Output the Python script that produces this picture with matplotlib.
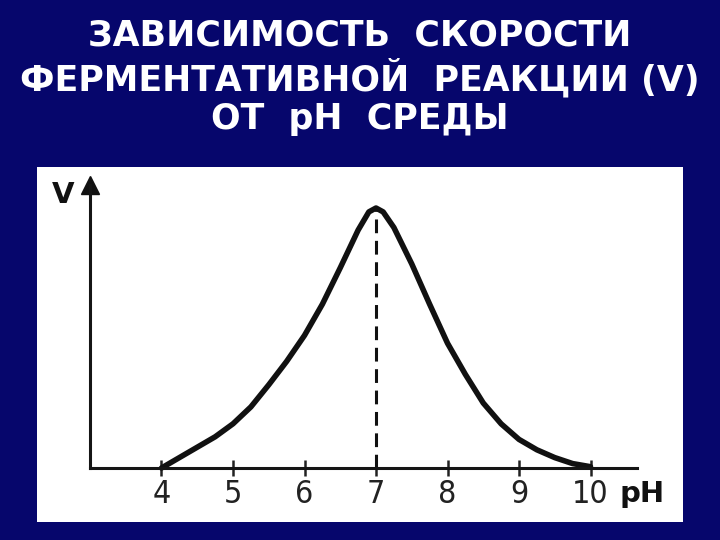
import matplotlib
matplotlib.use("Agg")
import matplotlib.pyplot as plt

# data (relative enzyme activity V vs pH)
ph = [4.0, 4.25, 4.5, 4.75, 5.0, 5.25, 5.5, 5.75, 6.0, 6.25, 6.5, 6.75, 6.9,
      7.0, 7.1, 7.25, 7.5, 7.75, 8.0, 8.25, 8.5, 8.75, 9.0, 9.25, 9.5, 9.75, 10.0]
v = [0.0, 0.04, 0.08, 0.12, 0.17, 0.235, 0.32, 0.41, 0.51, 0.63, 0.77, 0.915, 0.985,
     1.0, 0.985, 0.925, 0.785, 0.63, 0.48, 0.36, 0.25, 0.17, 0.11, 0.07, 0.04, 0.017, 0.005]
tick_values = [4, 5, 6, 7, 8, 9, 10]
tick_labels = ["4", "5", "6", "7", "8", "9", "10"]
title_lines = ["ЗАВИСИМОСТЬ  СКОРОСТИ", "ФЕРМЕНТАТИВНОЙ  РЕАКЦИИ (V)", "ОТ  pH  СРЕДЫ"]
peak_ph = 7.0
peak_v = 1.0

W, H = 720, 540
navy = "#06066c"
fig = plt.figure(figsize=(7.2, 5.4), dpi=100, facecolor=navy)

# white panel (background axes)
bg = fig.add_axes([37 / W, (H - 522) / H, (683 - 37) / W, (522 - 167) / H], zorder=0)
bg.set_facecolor("white")
bg.set_xticks([]); bg.set_yticks([])
for s in bg.spines.values():
    s.set_visible(False)

# title
for txt, yc in zip(title_lines, [36, 78, 119]):
    fig.text(0.5, 1 - yc / H, txt, color="white", fontsize=25, fontweight="bold",
             ha="center", va="center", family=["DejaVu Sans"])

# axes
x0, x1 = 3.0, 10.65
px_per = 71.5
left_px = 90
width_px = (x1 - x0) * px_per
y_top = 1.09
ax = fig.add_axes([left_px / W, (H - 468) / H, width_px / W, (y_top * 260) / H], zorder=2)
ax.set_facecolor("none")
ax.set_xlim(x0, x1)
ax.set_ylim(0, y_top)
for s in ["top", "right"]:
    ax.spines[s].set_visible(False)
for s in ["left", "bottom"]:
    ax.spines[s].set_linewidth(2.2)
    ax.spines[s].set_color("#151515")

ax.plot(ph, v, color="#111111", lw=4, solid_capstyle="round", solid_joinstyle="round", clip_on=False)
ax.plot([peak_ph, peak_ph], [0, peak_v], color="#111111", lw=2.2, dashes=(4.5, 2.5))

ax.set_xticks(tick_values)
ax.set_xticklabels(tick_labels, fontsize=23, family=["DejaVu Sans"], fontstretch="condensed",
                   color="#222222")
ax.tick_params(axis="x", direction="inout", length=12, width=1.8, pad=2, colors="#222222")
ax.set_yticks([])

# arrow on y axis
ax.plot([x0], [y_top], marker="^", ms=13, color="#111111", clip_on=False)

ax.text(2.62, 1.05, "V", fontsize=21, fontweight="bold", color="#111111",
        ha="center", va="center", family=["DejaVu Sans"])
ax.text(10.41, -0.10, "pH", fontsize=21, fontweight="bold", color="#111111",
        ha="left", va="center", family=["DejaVu Sans"], clip_on=False)

fig.savefig("out.png", dpi=100, facecolor=navy)
